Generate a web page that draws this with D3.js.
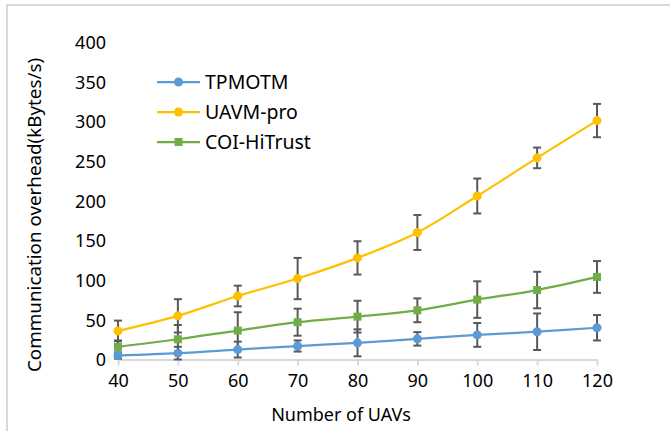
<!DOCTYPE html>
<html>
<head>
<meta charset="utf-8">
<script src="https://cdn.jsdelivr.net/npm/d3@7/dist/d3.min.js"></script>
<style>
  html, body { margin: 0; padding: 0; background: #fff; }
  svg { display: block; font-family: "Noto Sans", "Open Sans", sans-serif; }
</style>
</head>
<body>
<svg id="chart" width="670" height="431"></svg>
<script>
// ---- data ----
const uavs = [40, 50, 60, 70, 80, 90, 100, 110, 120];
const seriesNames = ["TPMOTM", "UAVM-pro", "COI-HiTrust"];
const tpmotm    = [5, 8, 12.5, 17, 21, 26, 31, 35, 40];
const tpmotmErr = [4, 8, 10, 7, 17, 8.5, 15, 23, 16];
const uavmPro    = [36, 55, 80, 102, 128, 160, 206, 254, 301];
const uavmProErr = [13, 21, 13, 26, 21, 22, 22, 13, 21];
const coiHiTrust    = [16, 25.5, 36.5, 47, 54, 62, 75.5, 87.5, 104];
const coiHiTrustErr = [8, 18, 23, 17, 20, 15, 23, 23, 20];
const yTicks = [0, 50, 100, 150, 200, 250, 300, 350, 400];
const colors = ["#5B9BD5", "#FFC000", "#70AD47"];
const markers = ["circle", "circle", "square"];

const series = [
  { name: seriesNames[0], values: tpmotm, err: tpmotmErr, color: colors[0], marker: markers[0] },
  { name: seriesNames[1], values: uavmPro, err: uavmProErr, color: colors[1], marker: markers[1] },
  { name: seriesNames[2], values: coiHiTrust, err: coiHiTrustErr, color: colors[2], marker: markers[2] }
];

const svg = d3.select("#chart");

// outer border (clipped at right/bottom like the reference)
svg.append("rect").attr("x", 7).attr("y", 5).attr("width", 700).attr("height", 460)
  .attr("fill", "none").attr("stroke", "#d9d9d9").attr("stroke-width", 2);

const x = d3.scaleLinear().domain([40, 120]).range([118, 597]);
const y = d3.scaleLinear().domain([0, 400]).range([359.5, 42]);

// y axis (labels only)
const yAxis = d3.axisLeft(y).tickValues(yTicks).tickSize(0).tickPadding(12);
const gy = svg.append("g").attr("transform", `translate(${x(40)},0)`).call(yAxis);
gy.select(".domain").remove();
gy.selectAll("text").attr("font-size", 18).attr("fill", "#000")
  .attr("font-family", "Noto Sans, sans-serif").attr("dy", "0.35em");

// x axis
const xAxis = d3.axisBottom(x).tickValues(uavs).tickSize(6).tickPadding(9).tickFormat(d3.format("d"));
const gx = svg.append("g").attr("transform", `translate(0,${y(0)})`).call(xAxis);
gx.select(".domain").attr("stroke", "#d9d9d9").attr("stroke-width", 2)
  .attr("d", `M${x(40)},0.5H${x(120)}`);
gx.selectAll(".tick line").attr("stroke", "#d9d9d9").attr("stroke-width", 2);
gx.selectAll("text").attr("font-size", 18).attr("fill", "#000")
  .attr("font-family", "Noto Sans, sans-serif");

// axis titles
svg.append("text").attr("x", 341).attr("y", 421).attr("text-anchor", "middle")
  .attr("font-size", 18).attr("fill", "#000").text("Number of UAVs");
svg.append("text").attr("transform", `translate(41,215) rotate(-90)`)
  .attr("text-anchor", "middle").attr("font-size", 18.8).attr("fill", "#000")
  .text("Communication overhead(kBytes/s)");

// lines
const line = d3.line().x((d, i) => x(uavs[i])).y(d => y(d)).curve(d3.curveCatmullRom.alpha(0.5));
series.forEach(s => {
  svg.append("path").datum(s.values).attr("d", line)
    .attr("fill", "none").attr("stroke", s.color).attr("stroke-width", 2.25)
    .attr("stroke-linejoin", "round");
});

// error bars
series.forEach(s => {
  const g = svg.append("g").attr("stroke", "#595959").attr("stroke-width", 2);
  s.values.forEach((v, i) => {
    const cx = x(uavs[i]);
    const y1 = y(v + s.err[i]);
    const y2 = y(Math.max(0, v - s.err[i]));
    g.append("line").attr("x1", cx).attr("x2", cx).attr("y1", y1).attr("y2", y2);
    g.append("line").attr("x1", cx - 4).attr("x2", cx + 4).attr("y1", y1).attr("y2", y1);
    g.append("line").attr("x1", cx - 4).attr("x2", cx + 4).attr("y1", y2).attr("y2", y2);
  });
});

// markers
function drawMarker(g, type, cx, cy, color) {
  if (type === "circle") {
    g.append("circle").attr("cx", cx).attr("cy", cy).attr("r", 4.5).attr("fill", color);
  } else {
    g.append("rect").attr("x", cx - 4).attr("y", cy - 4).attr("width", 8).attr("height", 8).attr("fill", color);
  }
}
series.forEach(s => {
  const g = svg.append("g");
  s.values.forEach((v, i) => drawMarker(g, s.marker, x(uavs[i]), y(v), s.color));
});

// legend
const legendY = [82, 112, 142];
series.forEach((s, i) => {
  const g = svg.append("g");
  g.append("line").attr("x1", 157).attr("x2", 200).attr("y1", legendY[i]).attr("y2", legendY[i])
    .attr("stroke", s.color).attr("stroke-width", 2.25);
  drawMarker(g, s.marker, 178.5, legendY[i], s.color);
  g.append("text").attr("x", 205).attr("y", legendY[i]).attr("dy", "0.35em")
    .attr("font-size", 19.5).attr("fill", "#000").text(s.name);
});
</script>
</body>
</html>
